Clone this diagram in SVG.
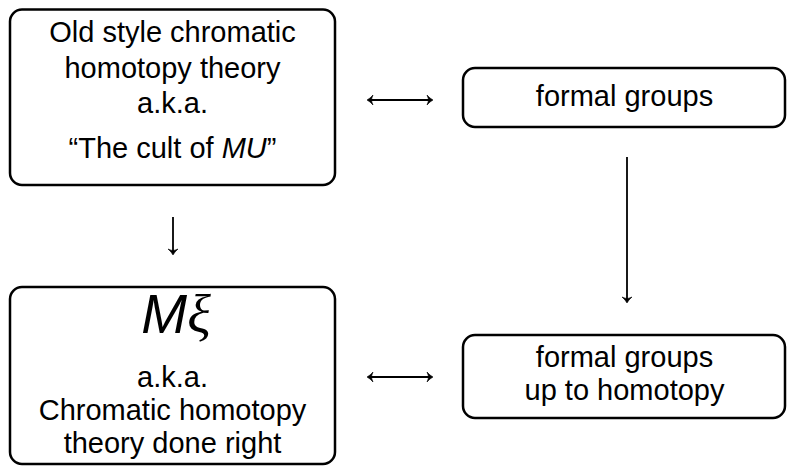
<svg xmlns="http://www.w3.org/2000/svg" width="787" height="466" viewBox="0 0 787 466">
<defs>
<style>
.box{fill:#fff;stroke:#000;stroke-width:2.5}
text{font-family:"Liberation Sans",Arial,sans-serif;font-size:29px;fill:#000;text-anchor:middle}
.ln{stroke:#000;stroke-width:1.8;fill:none}
.hd{fill:#000;stroke:#000;stroke-width:0.6;stroke-linejoin:round}
</style>
<path id="ah" d="M0,0 Q-3,-1.5 -6,-5 Q-4.5,-1.5 -4.5,0 Q-4.5,1.5 -6,5 Q-3,1.5 0,0 Z"/>
</defs>
<rect width="787" height="466" fill="#fff"/>
<g id="old-style">
<rect class="box" x="10" y="9.5" width="325" height="175.5" rx="12"/>
<text x="172.5" y="42">Old style chromatic</text>
<text x="172.5" y="78">homotopy theory</text>
<text x="172.5" y="113">a.k.a.</text>
<text x="172.5" y="158">“The cult of <tspan font-style="italic">MU</tspan>”</text>
</g>
<g id="formal-groups">
<rect class="box" x="463" y="68" width="322" height="59" rx="12"/>
<text x="624.5" y="106">formal groups</text>
</g>
<g id="mxi">
<rect class="box" x="10" y="287" width="325" height="177" rx="12"/>
<text x="176" y="333" style="font-size:55px;font-style:italic">M<tspan font-family="'Liberation Serif',serif">ξ</tspan></text>
<text x="172.5" y="387">a.k.a.</text>
<text x="172.5" y="420">Chromatic homotopy</text>
<text x="172.5" y="453">theory done right</text>
</g>
<g id="formal-groups-homotopy">
<rect class="box" x="463" y="335" width="322" height="83" rx="12"/>
<text x="624.5" y="367">formal groups</text>
<text x="624.5" y="400">up to homotopy</text>
</g>
<g id="connectors">
<line class="ln" x1="369" y1="100" x2="431" y2="100"/>
<use href="#ah" class="hd" transform="translate(367,100) rotate(180)"/>
<use href="#ah" class="hd" transform="translate(433,100)"/>
<line class="ln" x1="369" y1="377" x2="431" y2="377"/>
<use href="#ah" class="hd" transform="translate(367,377) rotate(180)"/>
<use href="#ah" class="hd" transform="translate(433,377)"/>
<line class="ln" x1="173" y1="217" x2="173" y2="253"/>
<use href="#ah" class="hd" transform="translate(173,255) rotate(90)"/>
<line class="ln" x1="627" y1="157" x2="627" y2="301"/>
<use href="#ah" class="hd" transform="translate(627,303) rotate(90)"/>
</g>
</svg>
